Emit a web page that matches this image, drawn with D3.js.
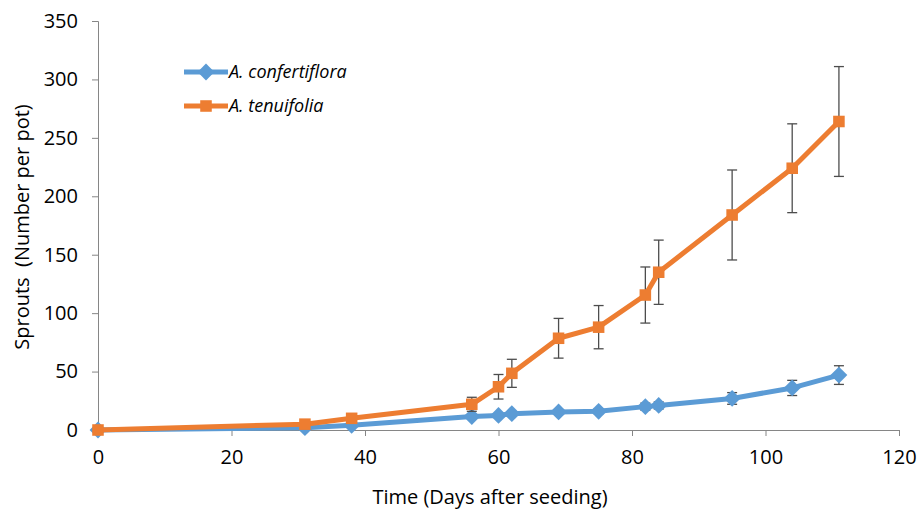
<!DOCTYPE html>
<html>
<head>
<meta charset="utf-8">
<title>Sprouts over time</title>
<style>
  body { margin: 0; background: #fff; }
  .tick text { font-family: "Open Sans", sans-serif; font-size: 20px; fill: #000; }
  .axis-title { font-family: "Open Sans", sans-serif; font-size: 20px; fill: #000; white-space: pre; }
  .legend text { font-family: "Open Sans", sans-serif; font-size: 18px; font-style: italic; fill: #000; }
</style>
<script src="https://d3js.org/d3.v7.min.js"></script>
</head>
<body>
<svg id="chart" width="919" height="511"></svg>
<script>
// days after seeding
var days = [0, 31, 38, 56, 60, 62, 69, 75, 82, 84, 95, 104, 111];

var confertiflora = [0, 2, 4, 11.5, 12.5, 14, 15.5, 16, 20, 21, 27, 36, 47];
var confertifloraErr = [0, 0, 0, 1.5, 1.5, 1.5, 2, 2, 3, 3, 5, 6.5, 8];

var tenuifolia = [0, 5, 10, 22, 37, 48.5, 78.5, 88, 115.5, 135, 184, 224, 264];
var tenuifoliaErr = [0, 0, 0, 6, 10.5, 12, 17, 18.5, 24, 27.5, 38.5, 38, 47];

var xTicks = [0, 20, 40, 60, 80, 100, 120];
var yTicks = [0, 50, 100, 150, 200, 250, 300, 350];

var seriesNames = ["A. confertiflora", "A. tenuifolia"];
var colors = ["#5b9bd5", "#ed7d31"];

var svg = d3.select("#chart");

var x = d3.scaleLinear().domain([0, 120]).range([98, 899]);
var y = d3.scaleLinear().domain([0, 350]).range([430, 21]);

var axisColor = "#868686";

// y axis
var yAxis = svg.append("g")
    .attr("transform", "translate(98,0)")
    .call(d3.axisLeft(y).tickValues(yTicks).tickSize(6).tickPadding(14));
yAxis.select(".domain").attr("stroke", axisColor);
yAxis.selectAll(".tick line").attr("stroke", axisColor);

// x axis
var xAxis = svg.append("g")
    .attr("transform", "translate(0,430)")
    .call(d3.axisBottom(x).tickValues(xTicks).tickSize(6).tickPadding(14));
xAxis.select(".domain").attr("stroke", axisColor);
xAxis.selectAll(".tick line").attr("stroke", axisColor);

svg.append("text")
    .attr("class", "axis-title")
    .attr("text-anchor", "middle")
    .attr("transform", "translate(29,227) rotate(-90)")
    .text("Sprouts  (Number per pot)");

svg.append("text")
    .attr("class", "axis-title")
    .attr("text-anchor", "middle")
    .attr("x", 490)
    .attr("y", 504)
    .text("Time (Days after seeding)");

function toPoints(vals, errs) {
    return days.map(function(d, i) { return { day: d, v: vals[i], e: errs[i] }; });
}

var series = [
    { name: seriesNames[0], color: colors[0], shape: "diamond", pts: toPoints(confertiflora, confertifloraErr) },
    { name: seriesNames[1], color: colors[1], shape: "square", pts: toPoints(tenuifolia, tenuifoliaErr) }
];

var line = d3.line()
    .x(function(d) { return x(d.day); })
    .y(function(d) { return y(d.v); });

function markerPath(shape) {
    if (shape === "diamond") return d3.symbol().type(d3.symbolDiamond2).size(180)();
    return d3.symbol().type(d3.symbolSquare2).size(170)();
}

series.forEach(function(s) {
    // error bars
    var eb = svg.append("g").attr("stroke", "#4d4d4d").attr("stroke-width", 1.3);
    s.pts.filter(function(p) { return p.e > 0; }).forEach(function(p) {
        var cx = x(p.day);
        eb.append("line").attr("x1", cx).attr("x2", cx).attr("y1", y(p.v + p.e)).attr("y2", y(p.v - p.e));
        eb.append("line").attr("x1", cx - 5).attr("x2", cx + 5).attr("y1", y(p.v + p.e)).attr("y2", y(p.v + p.e));
        eb.append("line").attr("x1", cx - 5).attr("x2", cx + 5).attr("y1", y(p.v - p.e)).attr("y2", y(p.v - p.e));
    });

    svg.append("path")
        .datum(s.pts)
        .attr("fill", "none")
        .attr("stroke", s.color)
        .attr("stroke-width", 5)
        .attr("stroke-linejoin", "round")
        .attr("d", line);

    svg.append("g").selectAll("path")
        .data(s.pts)
        .join("path")
        .attr("transform", function(d) { return "translate(" + x(d.day) + "," + y(d.v) + ")"; })
        .attr("d", markerPath(s.shape))
        .attr("fill", s.color);
});

// legend
var legend = svg.append("g").attr("class", "legend");
series.forEach(function(s, i) {
    var ly = 72 + i * 34;
    legend.append("line")
        .attr("x1", 184).attr("x2", 228).attr("y1", ly).attr("y2", ly)
        .attr("stroke", s.color).attr("stroke-width", 5);
    legend.append("path")
        .attr("transform", "translate(206," + ly + ")")
        .attr("d", markerPath(s.shape))
        .attr("fill", s.color);
    legend.append("text")
        .attr("x", 229).attr("y", ly)
        .attr("dy", "0.35em")
        .text(s.name);
});
</script>
</body>
</html>
